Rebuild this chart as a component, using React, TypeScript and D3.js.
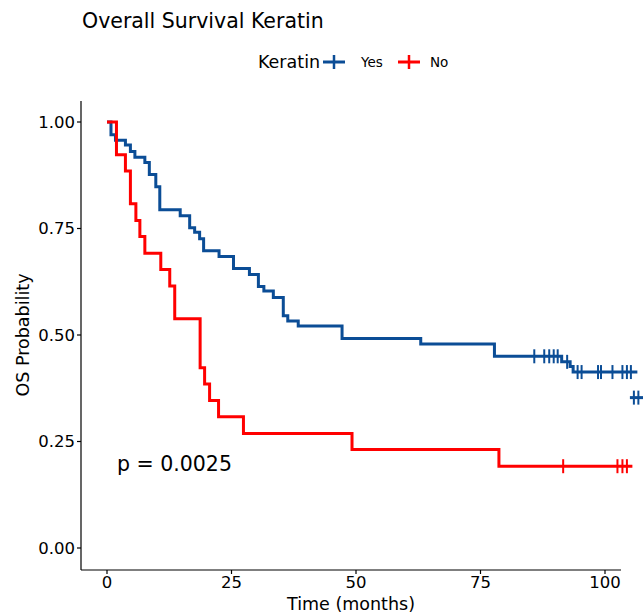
import React from 'react';
import * as d3 from 'd3';

// step curves: [time, survival]
const yesSteps: [number, number][] = [
  [0, 1], [0.8, 0.970], [1.7, 0.957], [3.7, 0.946], [4.7, 0.931], [5.6, 0.917],
  [7.6, 0.905], [8.5, 0.877], [9.8, 0.848], [10.6, 0.794], [14.7, 0.780],
  [16.6, 0.752], [17.6, 0.741], [18.6, 0.726], [19.4, 0.698], [22.5, 0.684],
  [25.4, 0.656], [28.6, 0.642], [30.4, 0.614], [31.5, 0.603], [33.4, 0.588],
  [35.4, 0.545], [36.3, 0.533], [38.4, 0.521], [47.2, 0.492], [63.0, 0.479],
  [77.8, 0.450], [91.3, 0.437], [93.0, 0.426], [93.6, 0.413], [106.5, 0.413],
];
const yesTail: [number, number][] = [[105.0, 0.353], [108, 0.353]];
const yesCensor = [85.8, 87.8, 88.8, 89.7, 90.5, 92.4, 94.5, 95.3, 98.6, 99.2, 101.5, 103.5, 104.4, 105.2];
const yesTailCensor = [105.8, 106.7];

const noSteps: [number, number][] = [
  [0, 1], [1.9, 0.923], [3.7, 0.885], [4.7, 0.808], [5.8, 0.769], [6.6, 0.731],
  [7.6, 0.692], [10.8, 0.654], [12.6, 0.615], [13.6, 0.538], [18.7, 0.423],
  [19.6, 0.385], [20.6, 0.346], [22.4, 0.308], [27.4, 0.269], [49.2, 0.231],
  [78.7, 0.192], [105.5, 0.192],
];
const noCensor = [91.6, 102.5, 103.5, 104.4];

const xTicks = [0, 25, 50, 75, 100];
const yTicks = [0, 0.25, 0.5, 0.75, 1];

const BLUE = '#0b4d96';
const RED = '#ff0000';
const FONT = 'DejaVu Sans, Verdana, sans-serif';

export default function App() {
  const x = d3.scaleLinear().domain([0, 100]).range([107, 605]);
  const y = d3.scaleLinear().domain([0, 1]).range([548, 122]);
  const line = d3.line<[number, number]>()
    .x(d => x(d[0]))
    .y(d => y(d[1]))
    .curve(d3.curveStepAfter);

  const axisLeft = 81;
  const axisBottom = 570;
  const axisTop = 101;
  const axisRight = 621;

  // value of a step curve at time t
  const at = (steps: [number, number][], t: number) => {
    let v = steps[0][1];
    for (const s of steps) if (s[0] <= t) v = s[1];
    return v;
  };

  const censor = (t: number, v: number, color: string, key: string) => (
    <line key={key} x1={x(t)} x2={x(t)} y1={y(v) - 7} y2={y(v) + 7}
      stroke={color} strokeWidth={2} />
  );

  return (
    <svg width={643} height={615} style={{ position: 'absolute', left: 0, top: 0 }}
      fontFamily={FONT}>
      <rect width={643} height={615} fill="#fff" />
      <text x={82} y={28} fontSize={20.5} fill="#000">Overall Survival Keratin</text>

      {/* legend */}
      <text x={258} y={68} fontSize={17.5} fill="#000">Keratin</text>
      <line x1={323} x2={345} y1={62} y2={62} stroke={BLUE} strokeWidth={3} />
      <line x1={334} x2={334} y1={55} y2={69} stroke={BLUE} strokeWidth={2.5} />
      <text x={361} y={67} fontSize={13.5} fill="#000">Yes</text>
      <line x1={398} x2={420} y1={62} y2={62} stroke={RED} strokeWidth={3} />
      <line x1={409} x2={409} y1={55} y2={69} stroke={RED} strokeWidth={2.5} />
      <text x={430} y={67} fontSize={13.5} fill="#000">No</text>

      {/* curves */}
      <path d={line(yesSteps) || ''} fill="none" stroke={BLUE} strokeWidth={3} />
      <path d={line(yesTail) || ''} fill="none" stroke={BLUE} strokeWidth={3} />
      {yesCensor.map((t, i) => censor(t, at(yesSteps, t), BLUE, 'yc' + i))}
      {yesTailCensor.map((t, i) => censor(t, yesTail[0][1], BLUE, 'yt' + i))}
      <path d={line(noSteps) || ''} fill="none" stroke={RED} strokeWidth={3} />
      {noCensor.map((t, i) => censor(t, at(noSteps, t), RED, 'nc' + i))}

      {/* axes */}
      <line x1={axisLeft} x2={axisLeft} y1={axisTop} y2={axisBottom} stroke="#000" strokeWidth={1.2} />
      <line x1={axisLeft} x2={axisRight} y1={axisBottom} y2={axisBottom} stroke="#000" strokeWidth={1.2} />
      {yTicks.map(t => (
        <g key={'y' + t}>
          <line x1={axisLeft - 4} x2={axisLeft} y1={y(t)} y2={y(t)} stroke="#000" strokeWidth={1.2} />
          <text x={axisLeft - 6} y={y(t)} dy="0.36em" textAnchor="end" fontSize={16.5} fill="#000">
            {t.toFixed(2)}
          </text>
        </g>
      ))}
      {xTicks.map(t => (
        <g key={'x' + t}>
          <line x1={x(t)} x2={x(t)} y1={axisBottom} y2={axisBottom + 4} stroke="#000" strokeWidth={1.2} />
          <text x={x(t)} y={axisBottom + 18} textAnchor="middle" fontSize={16.5} fill="#000">{t}</text>
        </g>
      ))}
      <text x={351} y={610} textAnchor="middle" fontSize={17.5} fill="#000">Time (months)</text>
      <text transform="translate(29,335) rotate(-90)" textAnchor="middle" fontSize={17.5} fill="#000">
        OS Probability
      </text>

      <text x={117} y={471} fontSize={20.5} fill="#000">p = 0.0025</text>
    </svg>
  );
}
